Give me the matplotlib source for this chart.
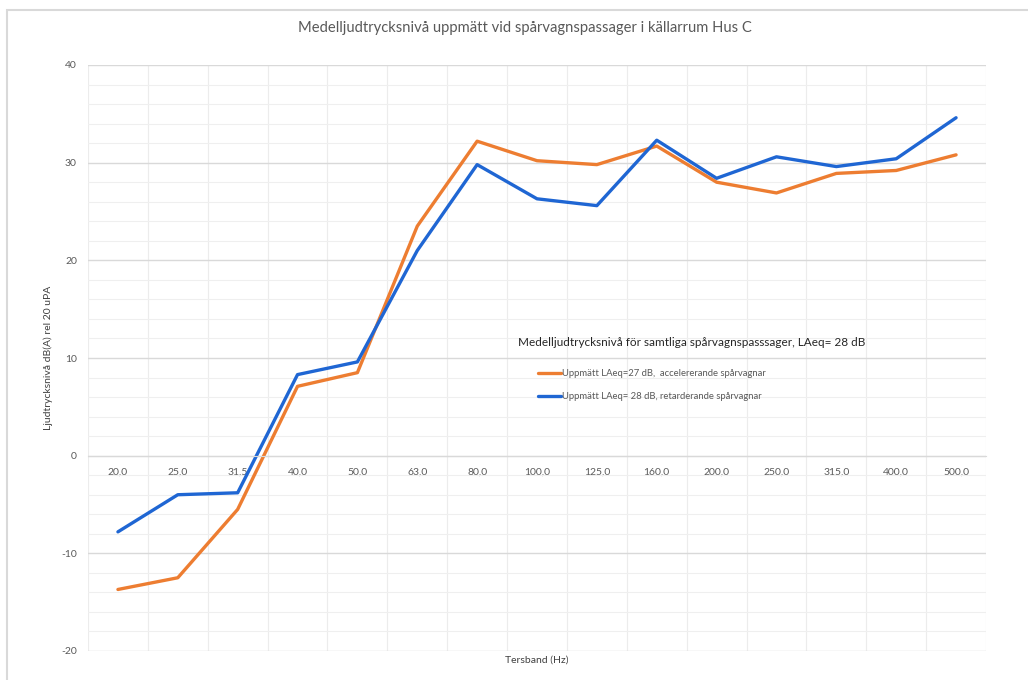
import matplotlib
matplotlib.use("Agg")
import matplotlib.pyplot as plt
from matplotlib.patches import Rectangle
import numpy as np

plt.rcParams['font.family'] = ['Lato', 'DejaVu Sans']
plt.rcParams['axes.unicode_minus'] = False

# Tersband (Hz)
bands = ["20,0", "25,0", "31,5", "40,0", "50,0", "63,0", "80,0", "100,0",
         "125,0", "160,0", "200,0", "250,0", "315,0", "400,0", "500,0"]

# Uppmätt LAeq=27 dB, accelererande spårvagnar
accel = [-13.7, -12.5, -5.5, 7.1, 8.5, 23.5, 32.2, 30.2,
         29.8, 31.7, 28.0, 26.9, 28.9, 29.2, 30.8]

# Uppmätt LAeq=28 dB, retarderande spårvagnar
retard = [-7.8, -4.0, -3.8, 8.3, 9.6, 21.0, 29.8, 26.3,
          25.6, 32.3, 28.4, 30.6, 29.6, 30.4, 34.6]

fig = plt.figure(figsize=(10.28, 6.8), dpi=100)
ax = fig.add_axes([88 / 1028, 29 / 680, 898 / 1028, 586 / 680])

# ram runt diagrammet (som i Excel)
fig.patches.append(Rectangle((7 / 1028, -0.1), 1.2, 1.085, transform=fig.transFigure,
                             fill=False, edgecolor='#d9d9d9', linewidth=1.5))

x = np.arange(len(bands))
ax.plot(x, accel, color='#ED7D31', linewidth=2.4, label='Uppmätt LAeq=27 dB,  accelererande spårvagnar',
        solid_capstyle='round', solid_joinstyle='round')
ax.plot(x, retard, color='#1F66D3', linewidth=2.4, label='Uppmätt LAeq= 28 dB, retarderande spårvagnar',
        solid_capstyle='round', solid_joinstyle='round')

ax.set_xlim(-0.5, len(bands) - 0.5)
ax.set_ylim(-20, 40)

ax.set_yticks(np.arange(-20, 41, 10))
ax.set_yticks(np.arange(-20, 41, 2), minor=True)
ax.set_xticks(x)
ax.set_xticklabels(bands)
ax.set_xticks(np.arange(-0.5, len(bands), 0.5), minor=True)

ax.grid(which='major', axis='y', color='#d9d9d9', linewidth=1.0)
ax.grid(which='minor', axis='y', color='#efefef', linewidth=0.8)
ax.grid(which='minor', axis='x', color='#ececec', linewidth=0.8)
ax.set_axisbelow(True)

ax.spines['bottom'].set_position(('data', 0))
ax.spines['bottom'].set_color('#d9d9d9')
for s in ['top', 'left', 'right']:
    ax.spines[s].set_visible(False)

ax.tick_params(axis='both', which='both', length=0, colors='#595959', labelsize=7.5)
ax.tick_params(axis='x', pad=9)
ax.tick_params(axis='y', pad=8)

ax.set_ylabel('Ljudtrycksnivå dB(A) rel 20 uPA', fontsize=7.5, color='#404040', labelpad=6)
ax.text(0.5, -0.008, 'Tersband (Hz)', transform=ax.transAxes, ha='center', va='top',
        fontsize=7.5, color='#404040')

fig.text(525 / 1028, 1 - 28 / 680, 'Medelljudtrycksnivå uppmätt vid spårvagnspassager i källarrum Hus C',
         ha='center', va='center', fontsize=10.6, color='#595959')

fig.text(692 / 1028, 1 - 342 / 680, 'Medelljudtrycksnivå för samtliga spårvagnspasssager, LAeq= 28 dB',
         ha='center', va='center', fontsize=8.5, color='#262626')

ax.legend(loc='upper left', bbox_to_anchor=(529 / 1028, 1 - 361 / 680), bbox_transform=fig.transFigure,
          frameon=False, fontsize=6.8, handlelength=2.5, handletextpad=0.1, labelspacing=1.45,
          labelcolor='#595959')

fig.savefig('out.png', dpi=100)
